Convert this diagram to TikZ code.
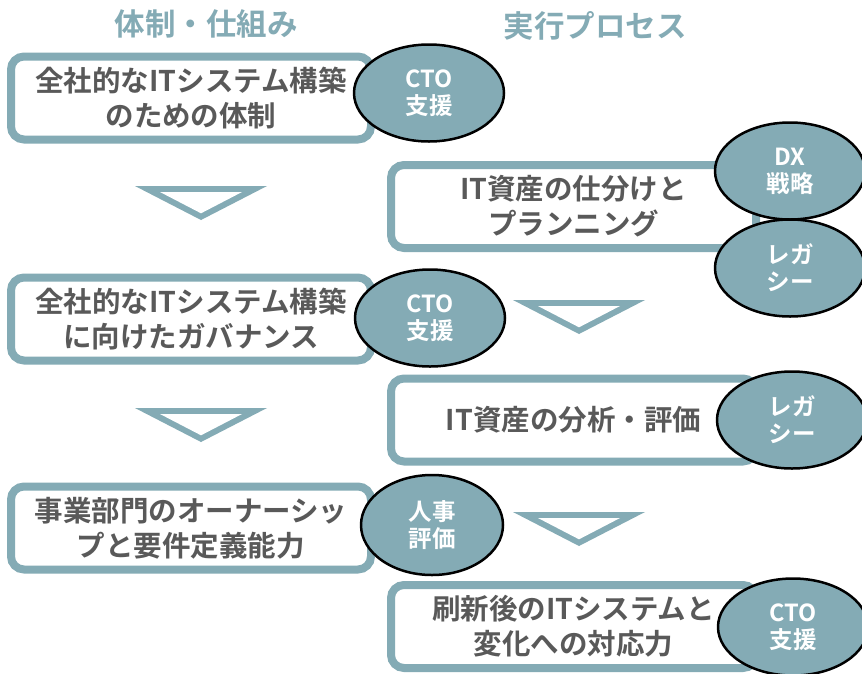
\documentclass[tikz,border=0pt]{standalone}
\usepackage{fontspec}
\setmainfont{Noto Sans CJK JP}[BoldFont={Noto Sans CJK JP Bold}]
\usetikzlibrary{shapes.geometric}
\definecolor{tealgray}{HTML}{84ABB5}
\definecolor{txtgray}{HTML}{595959}
\begin{document}
\begin{tikzpicture}[x=1pt,y=-1pt,
  box/.style={draw=tealgray, line width=8pt, rounded corners=13pt, fill=white,
    minimum height=83pt, inner sep=0pt, align=center, text=txtgray,
    font=\bfseries\fontsize{28.5}{35}\selectfont},
  lbox/.style={box, minimum width=360pt},
  rbox/.style={box, minimum width=365pt},
  badge/.style={ellipse, draw=black, line width=2.5pt, fill=tealgray, text=white,
    align=center, inner sep=0pt, minimum width=150pt, minimum height=97pt,
    font=\bfseries\fontsize{23.5}{27}\selectfont},
  heading/.style={text=tealgray, inner sep=0pt, font=\bfseries\fontsize{30.5}{36}\selectfont},
  downtri/.pic={
    \fill[tealgray] (-66,0) -- (66,0) -- (0,34) -- cycle;
    \fill[white] (-41,6) -- (41,6) -- (0,27.3) -- cycle;}
]
\fill[white] (0,0) rectangle (862,673);
\useasboundingbox (0,0) rectangle (862,673);

% headings
\node[heading] (h1) at (206,24) {体制・仕組み};
\node[heading] (h2) at (595,26) {実行プロセス};

% left column boxes
\node[lbox] (b1) at (191,98) {全社的なITシステム構築\\のための体制};
\node[lbox] (b3) at (191,319) {全社的なITシステム構築\\に向けたガバナンス};
\node[lbox] (b5) at (191,528) {事業部門のオーナーシッ\\プと要件定義能力};

% right column boxes
\node[rbox] (b2) at (573.5,206.5) {IT資産の仕分けと\\プランニング};
\node[rbox] (b4) at (573.5,420) {IT資産の分析・評価};
\node[rbox] (b6) at (573.5,626.5) {刷新後のITシステムと\\変化への対応力};

% triangles
\pic at (201,186) {downtri};
\pic at (201,408) {downtri};
\pic at (579,300) {downtri};
\pic at (579,512) {downtri};

% badges
\node[badge] (e1) at (429,93) {CTO\\支援};
\node[badge] (e2) at (790,171) {DX\\戦略};
\node[badge] (e3) at (790,268) {レガ\\シー};
\node[badge] (e4) at (430,318) {CTO\\支援};
\node[badge] (e5) at (792,420) {レガ\\シー};
\node[badge, minimum width=142pt, minimum height=100pt] (e6) at (432,525) {人事\\評価};
\node[badge] (e7) at (793,627) {CTO\\支援};
\end{tikzpicture}
\end{document}
